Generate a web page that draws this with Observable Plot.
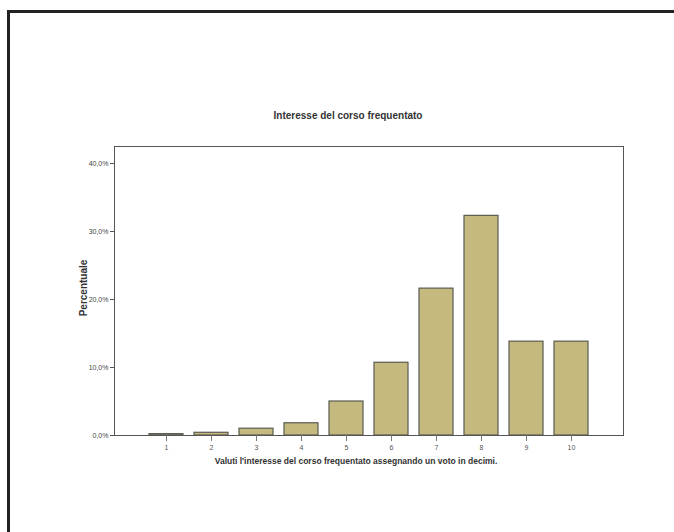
<!DOCTYPE html>
<html>
<head>
<meta charset="utf-8">
<script src="https://cdn.jsdelivr.net/npm/d3@7"></script>
<script src="https://cdn.jsdelivr.net/npm/@observablehq/plot@0.6"></script>
<style>
  html, body { margin: 0; padding: 0; background: #fff; width: 674px; height: 532px; overflow: hidden; }
  #wrap { position: relative; width: 674px; height: 532px; }
  #border { position: absolute; left: 7px; top: 10px; width: 700px; height: 600px; border: 3px solid #222; box-sizing: border-box; }
  #chart { position: absolute; left: 0; top: 0; }
</style>
</head>
<body>
<div id="wrap"><div id="border"></div><div id="chart"></div></div>
<script>
const categories = ["1", "2", "3", "4", "5", "6", "7", "8", "9", "10"];
const percentages = [0.002, 0.004, 0.010, 0.018, 0.050, 0.107, 0.216, 0.323, 0.138, 0.138];
const yTicks = [0, 0.1, 0.2, 0.3, 0.4];
const titleText = "Interesse del corso frequentato";
const xTitle = "Valuti l'interesse del corso frequentato assegnando un voto in decimi.";
const yTitle = "Percentuale";

const data = categories.map((c, i) => ({cat: c, value: percentages[i]}));
const fmt = d => (d * 100).toFixed(1).replace(".", ",") + "%";

const plot = Plot.plot({
  width: 674,
  height: 532,
  marginLeft: 114,
  marginRight: 51,
  marginTop: 146,
  marginBottom: 97,
  style: {fontFamily: "Liberation Sans, Arial, sans-serif", fontSize: "7px", color: "#333", background: "transparent"},
  x: {domain: categories, paddingInner: 0.24, paddingOuter: 0.66, label: null},
  y: {domain: [0, 0.425], label: null},
  marks: [
    Plot.barY(data, {x: "cat", y: "value", fill: "#c5b97f", stroke: "#5a5a50", strokeWidth: 1.2}),
    Plot.frame({stroke: "#555", strokeWidth: 1}),
    Plot.axisX({ticks: categories, tickSize: 6, tickPadding: 4, fontSize: 7, stroke: "#777", color: "#555"}),
    Plot.axisY({ticks: yTicks, tickFormat: fmt, tickSize: 4, tickPadding: 2, fontSize: 7, stroke: "#555", color: "#444", label: null}),
    Plot.text([titleText], {frameAnchor: "top", dy: -35, dx: -21, text: d => d, fontSize: 10, fill: "#333", fontWeight: "bold"}),
    Plot.text([xTitle], {frameAnchor: "bottom", dy: 28, dx: -13, text: d => d, fontSize: 8.5, fill: "#333", fontWeight: "bold"}),
    Plot.text([yTitle], {frameAnchor: "left", dx: -31, dy: -3, rotate: -90, textAnchor: "middle", text: d => d, fontSize: 10, fill: "#333", fontWeight: "bold"})
  ]
});
document.getElementById("chart").appendChild(plot);
</script>
</body>
</html>
